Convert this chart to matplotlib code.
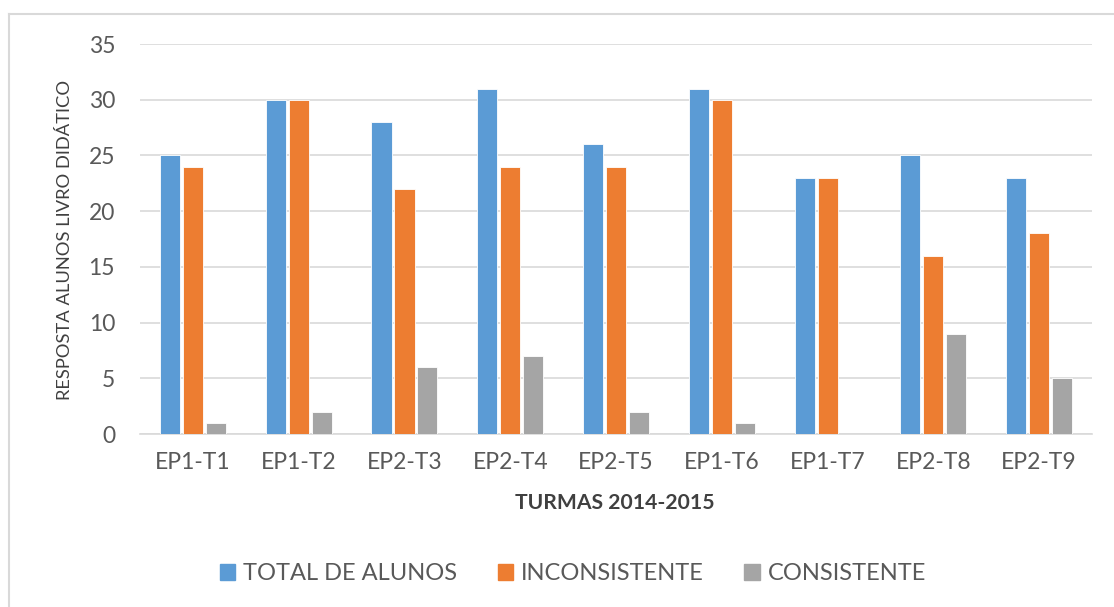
import matplotlib.pyplot as plt
import numpy as np
from matplotlib.patches import Rectangle
from matplotlib.lines import Line2D

turmas = ["EP1-T1", "EP1-T2", "EP2-T3", "EP2-T4", "EP2-T5", "EP1-T6", "EP1-T7", "EP2-T8", "EP2-T9"]
total_alunos = [25, 30, 28, 31, 26, 31, 23, 25, 23]
inconsistente = [24, 30, 22, 24, 24, 30, 23, 16, 18]
consistente = [1, 2, 6, 7, 2, 1, 0, 9, 5]

series_names = ["TOTAL DE ALUNOS", "INCONSISTENTE", "CONSISTENTE"]
colors = ["#5b9bd5", "#ed7d31", "#a5a5a5"]
y_ticks = [0, 5, 10, 15, 20, 25, 30, 35]

plt.rcParams['font.family'] = ['Lato', 'DejaVu Sans']
text_color = "#595959"

fig = plt.figure(figsize=(11.14, 6.07), dpi=100)
ax = fig.add_axes([0.1257, 0.285, 0.9803 - 0.1257, 0.9275 - 0.285])

x = np.arange(len(turmas))
width = 0.19
offset = 0.217
for i, (vals, name, c) in enumerate(zip([total_alunos, inconsistente, consistente], series_names, colors)):
    ax.bar(x + (i - 1) * offset, vals, width, color=c, edgecolor="white", linewidth=0.6,
           label=name, zorder=3)

ax.set_xlim(-0.5, len(turmas) - 0.5)
ax.set_ylim(0, 35)
ax.set_yticks(y_ticks)
ax.set_yticklabels([str(v) for v in y_ticks], fontsize=16.5, color=text_color)
ax.set_xticks(x)
ax.set_xticklabels(turmas, fontsize=16.5, color=text_color)
ax.tick_params(axis='both', length=0)
ax.tick_params(axis='y', pad=18)
ax.tick_params(axis='x', pad=13)
ax.grid(axis='y', color="#d9d9d9", linewidth=1.2, zorder=0)
for s in ["top", "right", "left"]:
    ax.spines[s].set_visible(False)
ax.spines["bottom"].set_color("#d9d9d9")
ax.spines["bottom"].set_linewidth(1.2)

fig.text(65 / 1114, 1 - 240 / 607, "RESPOSTA ALUNOS LIVRO DIDÁTICO", rotation=90,
         ha="center", va="center", fontsize=13.2, color="#404040")
fig.text(615 / 1114, 1 - 503 / 607, "TURMAS 2014-2015", ha="center", va="center",
         fontsize=15.2, color="#404040", fontweight="bold")

handles = [Rectangle((0, 0), 1, 1, color=c) for c in colors]
fig.legend(handles, series_names, loc="center", bbox_to_anchor=(573 / 1114, 1 - 574 / 607),
           ncol=3, frameon=False, fontsize=17, labelcolor=text_color,
           handlelength=0.65, handleheight=0.65, handletextpad=0.35, columnspacing=1.7)

# light frame around the chart area
fig.add_artist(Line2D([9 / 1114, 9 / 1114], [0, 1 - 14 / 607], transform=fig.transFigure,
                      color="#d9d9d9", linewidth=1.5))
fig.add_artist(Line2D([9 / 1114, 1], [1 - 14 / 607, 1 - 14 / 607], transform=fig.transFigure,
                      color="#d9d9d9", linewidth=1.5))

fig.savefig("out.png", dpi=100)
